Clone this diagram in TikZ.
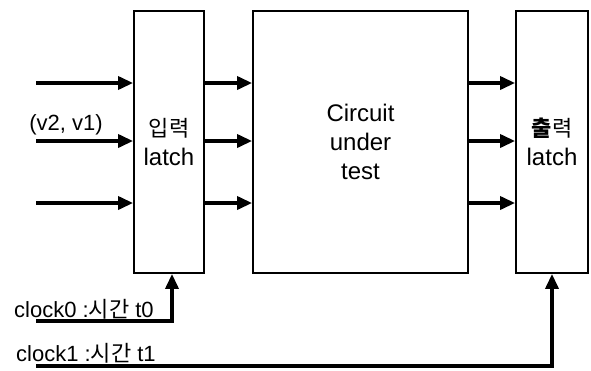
\documentclass[tikz,border=0pt]{standalone}
\usepackage{fontspec}
\setmainfont{Liberation Sans}
\newfontfamily\kr{Noto Sans CJK KR}
\usetikzlibrary{arrows.meta}

\begin{document}
\begin{tikzpicture}[x=1pt,y=-1pt,
  box/.style={draw,line width=1.8pt,inner sep=0pt,align=center,
              font=\fontsize{24}{29}\selectfont},
  sig/.style={line width=3.4pt,-{Triangle[length=15pt,width=13pt]}},
  lbl/.style={font=\fontsize{22}{26}\selectfont,inner sep=0pt}]
\useasboundingbox (0,0) rectangle (591,370);

% the three blocks
\node[box, minimum width=70pt, minimum height=262pt] (inl) at (169,142)
  {{\kr\fontsize{22}{29}\selectfont 입력}\\latch};
\node[box, minimum width=215pt, minimum height=262pt] (cut) at (360.5,142)
  {Circuit\\under\\test};
\node[box, minimum width=72pt, minimum height=262pt] (outl) at (552,142)
  {{\kr\fontsize{22}{29}\selectfont{\bfseries 출}력}\\latch};

% primary inputs
\coordinate (i1) at (36,83);
\coordinate (i2) at (36,141);
\coordinate (i3) at (36,203);
\draw[sig] (i1) -- (i1 -| inl.west);
\draw[sig] (i2) -- (i2 -| inl.west);
\draw[sig] (i3) -- (i3 -| inl.west);
\node[lbl] (vec) at (66,125) {(v2, v1)};

% latch to circuit to latch
\foreach \y in {83,141,203}{
  \draw[sig] (inl.east |- 0,\y) -- (cut.west |- 0,\y);
  \draw[sig] (cut.east |- 0,\y) -- (outl.west |- 0,\y);
}

% clocks
\coordinate (c0) at (36,321);
\coordinate (c1) at (36,366);
\draw[sig] (c0) -| ([xshift=3pt]inl.south);
\draw[sig] (c1) -| (outl.south);
\node[lbl, anchor=west] (c0l) at (14,309) {clock0 :{\kr 시간} t0};
\node[lbl, anchor=west] (c1l) at (16,353) {clock1 :{\kr 시간} t1};
\end{tikzpicture}
\end{document}
